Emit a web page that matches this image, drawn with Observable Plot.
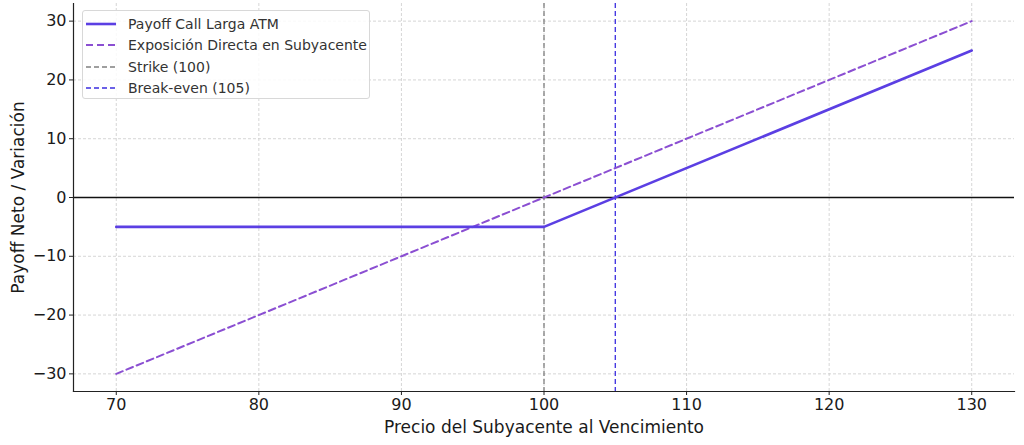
<!DOCTYPE html>
<html><head><meta charset="utf-8">
<script src="https://cdn.jsdelivr.net/npm/d3@7"></script>
<script src="https://cdn.jsdelivr.net/npm/@observablehq/plot@0.6"></script>
<style>
body{margin:0;background:#fff;font-family:"DejaVu Sans",sans-serif;}
#wrap{position:relative;width:1024px;height:445px;}
#legend{position:absolute;left:82px;top:10px;width:288px;height:89px;box-sizing:border-box;border:1px solid #d8d8d8;border-radius:3px;background:rgba(255,255,255,0.85);font-size:14px;color:#333;padding:2px 0 0 3px;}
#legend .row{display:flex;align-items:center;height:21.5px;}
#legend svg{margin-right:12px;}
</style></head><body>
<div id="wrap"></div>
<script>
const precios = [70, 100, 130];
const payoffCall = [-5, -5, 25];
const exposicion = [-30, 0, 30];
const strike = 100;
const breakEven = 105;
const xTicks = [70, 80, 90, 100, 110, 120, 130];
const yTicks = [-30, -20, -10, 0, 10, 20, 30];
const seriesNames = ["Payoff Call Larga ATM", "Exposición Directa en Subyacente", "Strike (100)", "Break-even (105)"];
const colors = ["#5b3fe3", "#8b4fd2", "#808080", "#3b2ee0"];

const callData = precios.map((p, i) => ({p, v: payoffCall[i]}));
const expData = precios.map((p, i) => ({p, v: exposicion[i]}));
const fmt = d => d < 0 ? "\u2212" + Math.abs(d) : String(d);

const chart = Plot.plot({
  width: 1024, height: 445,
  marginLeft: 73, marginRight: 10, marginTop: 3, marginBottom: 54,
  style: {fontFamily: "DejaVu Sans", fontSize: "16px", color: "#1a1a1a", background: "#fff"},
  x: {domain: [67, 133]},
  y: {domain: [-33, 33]},
  marks: [
    Plot.gridX(xTicks, {stroke: "#cccccc", strokeOpacity: 1, strokeDasharray: "3,2", strokeWidth: 0.8}),
    Plot.gridY(yTicks, {stroke: "#cccccc", strokeOpacity: 1, strokeDasharray: "3,2", strokeWidth: 0.8}),
    Plot.ruleY([0], {stroke: "#111", strokeWidth: 1.3}),
    Plot.ruleX([strike], {stroke: colors[2], strokeWidth: 1.3, strokeDasharray: "5,3"}),
    Plot.ruleX([breakEven], {stroke: colors[3], strokeWidth: 1.3, strokeDasharray: "5,3"}),
    Plot.line(expData, {x: "p", y: "v", stroke: colors[1], strokeWidth: 2, strokeDasharray: "7,4"}),
    Plot.line(callData, {x: "p", y: "v", stroke: colors[0], strokeWidth: 2.6}),
    Plot.frame({anchor: "left", stroke: "#222", strokeWidth: 1.2}),
    Plot.frame({anchor: "bottom", stroke: "#222", strokeWidth: 1.2}),
    Plot.axisX(xTicks, {tickFormat: fmt, tickSize: 4, tickPadding: 3, stroke: "#222", fontSize: 16, label: "Precio del Subyacente al Vencimiento", labelAnchor: "center", labelArrow: "none", labelOffset: 41}),
    Plot.axisX({anchor: "bottom", ticks: [], label: null}),
    Plot.axisY(yTicks, {tickFormat: fmt, tickSize: 4, tickPadding: 3, stroke: "#222", fontSize: 16, label: "Payoff Neto / Variación", labelAnchor: "center", labelArrow: "none", labelOffset: 62})
  ]
});
// enlarge axis labels slightly
chart.querySelectorAll("[aria-label='x-axis label'] text, [aria-label='y-axis label'] text").forEach(t => t.setAttribute("font-size", "17"));
document.getElementById("wrap").appendChild(chart);

const leg = document.createElement("div");
leg.id = "legend";
const styles = [
  {w: 2.6, dash: null},
  {w: 2, dash: "7,4"},
  {w: 1.3, dash: "5,3"},
  {w: 1.3, dash: "5,3"}
];
seriesNames.forEach((n, i) => {
  const row = document.createElement("div");
  row.className = "row";
  row.innerHTML = `<svg width="30" height="10"><line x1="0" x2="30" y1="5" y2="5" stroke="${colors[i]}" stroke-width="${styles[i].w}" ${styles[i].dash ? `stroke-dasharray="${styles[i].dash}"` : ""}/></svg><span>${n}</span>`;
  leg.appendChild(row);
});
document.getElementById("wrap").appendChild(leg);
</script>
</body></html>
